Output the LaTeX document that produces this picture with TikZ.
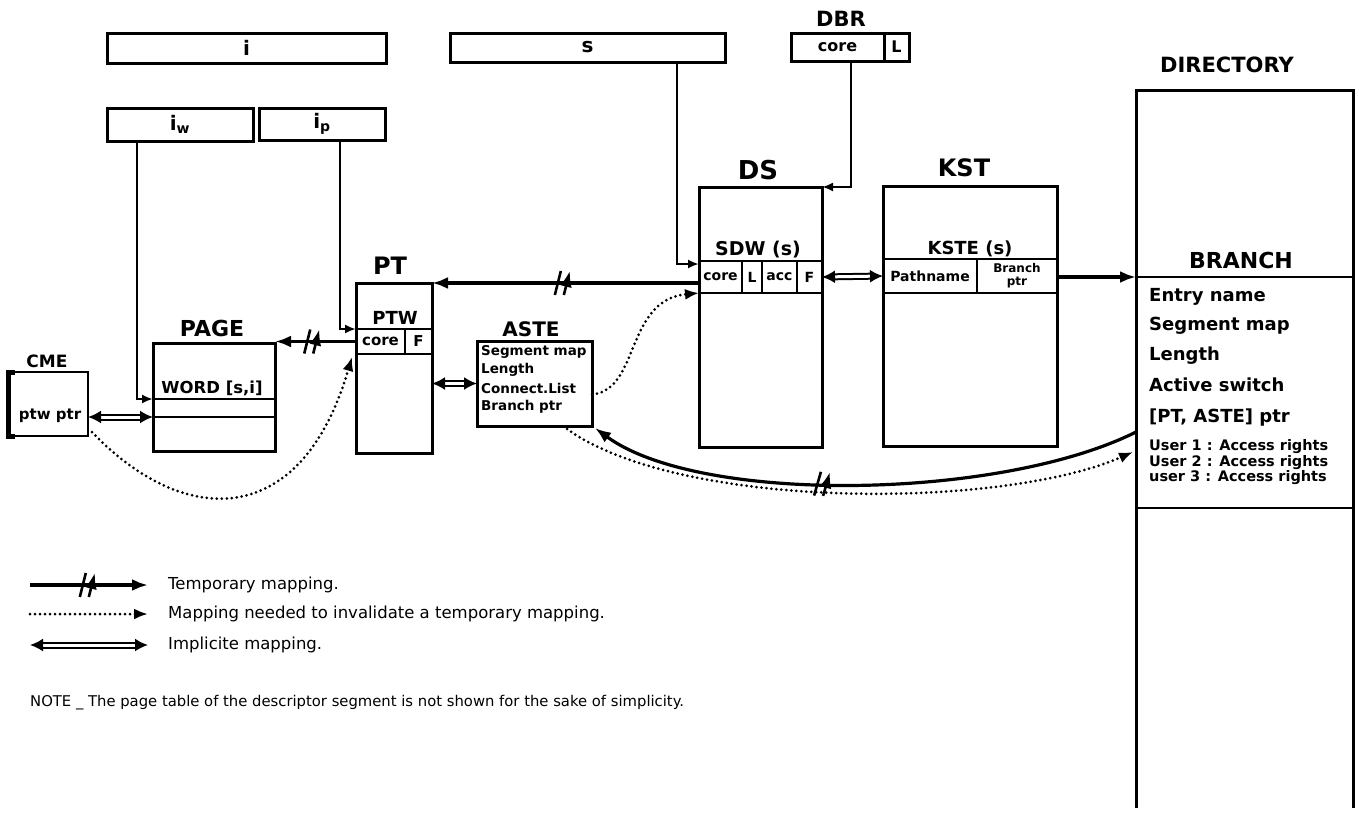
\documentclass[tikz,border=0pt]{standalone}
\usepackage{fontspec}
\setmainfont{DejaVu Sans}
\usetikzlibrary{arrows.meta,calc}
\newcommand{\fs}[1]{\fontsize{#1}{#1}\selectfont}
\begin{document}
\begin{tikzpicture}[x=1pt,y=-1pt,
  box/.style={draw,line width=3pt,inner sep=0pt,outer sep=0pt,font=\fs{20}\bfseries},
  cell/.style={draw,line width=2.2pt,inner sep=0pt,outer sep=0pt,font=\fs{14}\bfseries},
  area/.style={inner sep=0pt,outer sep=0pt},
  ttl/.style={font=\fs{22}\bfseries,inner sep=0pt},
  sub/.style={font=\fs{18}\bfseries,inner sep=0pt},
  txt/.style={inner sep=0pt,anchor=west},
  link/.style={line width=2.4pt,-{Latex[length=11pt,width=9pt]}},
  temp/.style={line width=3.2pt,-{Latex[length=16pt,width=12pt]}},
  dotted link/.style={line width=3pt,dash pattern=on 0pt off 5pt,line cap=round,-{Latex[length=14pt,width=11pt]}},
  impl/.style={double,double distance=3pt,line width=2pt,{Latex[length=13pt,width=13pt]}-{Latex[length=13pt,width=13pt]}},
  cut/.pic={\draw[line width=2.6pt,solid,line cap=butt] (-8,12)--(-2,-12) (1,12)--(7,-12);}
]
\path[use as bounding box,fill=white] (0,0) rectangle (1359,817);

% registers
\node[box,minimum width=279pt,minimum height=30pt] (ibox) at (246.5,48) {i};
\node[box,minimum width=146pt,minimum height=33pt] (iw) at (180,124.5) {i\textsubscript{w}};
\node[box,minimum width=126pt,minimum height=32pt] (ip) at (322,124) {i\textsubscript{p}};
\node[box,minimum width=275pt,minimum height=29pt] (sbox) at (587.5,47.5) {s};
\node[box,minimum width=93pt,minimum height=28pt,font=\fs{16}\bfseries] (dbrcore) at (837.5,47) {core};
\node[box,minimum width=25pt,minimum height=28pt,font=\fs{16}\bfseries] (dbrL) at (896.5,47) {L};
\node[ttl,font=\fs{21}\bfseries] (dbrt) at (841,19) {DBR};

% DS
\node[box,minimum width=123pt,minimum height=260pt] (ds) at (760.5,317) {};
\node[ttl,font=\fs{26}\bfseries] (dst) at (758,170) {DS};
\node[sub,font=\fs{19}\bfseries] (sdw) at (758,250) {SDW (s)};
\node[cell,minimum width=43pt,minimum height=32pt] (dscore) at (720.5,277) {core};
\node[cell,minimum width=20pt,minimum height=32pt] (dsL) at (752,277) {L};
\node[cell,minimum width=35pt,minimum height=32pt] (dsacc) at (779.5,277) {acc};
\node[cell,minimum width=25pt,minimum height=32pt] (dsF) at (809.5,277) {F};

% KST
\node[box,minimum width=174pt,minimum height=260pt] (kst) at (970,316) {};
\node[ttl,font=\fs{24}\bfseries] (kstt) at (964,168) {KST};
\node[sub] (kste) at (970,249) {KSTE (s)};
\node[cell,minimum width=94pt,minimum height=34pt] (kstpath) at (930,276) {Pathname};
\node[cell,minimum width=80pt,minimum height=34pt,font=\fontsize{12}{13}\selectfont\bfseries,align=center] (kstbr) at (1017,276) {Branch\\ptr};

% PT
\node[box,minimum width=76pt,minimum height=170pt] (pt) at (394,368) {};
\node[ttl,font=\fs{24}\bfseries] (ptt) at (390,266) {PT};
\node[sub] (ptw) at (395,318) {PTW};
\node[cell,minimum width=49pt,minimum height=25pt,font=\fs{15}\bfseries] (ptcore) at (380.5,341.5) {core};
\node[cell,minimum width=27pt,minimum height=25pt,font=\fs{15}\bfseries] (ptF) at (418.5,341.5) {F};

% PAGE
\node[box,minimum width=122pt,minimum height=108pt] (page) at (214,397) {};
\node[ttl] (paget) at (212,328) {PAGE};
\node[cell,minimum width=122pt,minimum height=18pt] (wordrow) at (214,408) {};
\node[sub,font=\fs{16.5}\bfseries] (word) at (212,388) {WORD [s,i]};

% CME
\node[area,minimum width=80pt,minimum height=64pt] (cme) at (48,404) {};
\draw[line width=2pt] (cme.north west) -- (cme.north east) -- (cme.south east) -- (cme.south west);
\draw[line width=5pt] ($(cme.north west)+(7,0)$) -- (cme.north west) -- (cme.south west) -- ++(7,0);
\node[ttl,font=\fs{17}\bfseries] (cmet) at (47,361) {CME};
\node[sub,font=\fs{15}\bfseries] (cmetxt) at (50,416) {ptw ptr};

% ASTE
\node[box,minimum width=115pt,minimum height=85pt] (aste) at (534.5,383.5) {};
\node[ttl,font=\fs{20}\bfseries] (astet) at (531,329) {ASTE};
\node[txt,font=\fs{13.5}\bfseries] (a1) at (481,352) {Segment map};
\node[txt,font=\fs{13.5}\bfseries] (a2) at (481,370) {Length};
\node[txt,font=\fs{13.5}\bfseries] (a3) at (481,388) {Connect.List};
\node[txt,font=\fs{13.5}\bfseries] (a4) at (481,407) {Branch ptr};

% DIRECTORY
\node[area,minimum width=217pt,minimum height=718pt] (dir) at (1244.5,449) {};
\draw[line width=3pt] (dir.south west) -- (dir.north west) -- (dir.north east) -- (dir.south east);
\node[area,minimum width=217pt,minimum height=231pt] (branch) at (1244.5,392.5) {};
\draw[line width=2.6pt] (branch.north west) -- (branch.north east) (branch.south west) -- (branch.south east);
\node[ttl,font=\fs{21}\bfseries] (dirt) at (1227,65) {DIRECTORY};
\node[ttl] (brt) at (1241,260) {BRANCH};
\node[txt,font=\fs{18}\bfseries] (b1) at (1149,297) {Entry name};
\node[txt,font=\fs{18}\bfseries] (b2) at (1149,326) {Segment map};
\node[txt,font=\fs{18}\bfseries] (b3) at (1149,356) {Length};
\node[txt,font=\fs{18}\bfseries] (b4) at (1149,385) {Active switch};
\node[txt,font=\fs{18}\bfseries] (b5) at (1149,418) {[PT, ASTE] ptr};
\node[txt,font=\fs{14.5}\bfseries] (b6) at (1149,447) {User 1 : Access rights};
\node[txt,font=\fs{14.5}\bfseries] (b7) at (1149,463) {User 2 : Access rights};
\node[txt,font=\fs{14.5}\bfseries] (b8) at (1149,478) {user 3 : Access rights};

% connectors
\draw[link] ($(iw.south west)+(30,0)$) |- (wordrow.north west);
\draw[link] ($(ip.south west)+(81,0)$) |- (ptcore.north west);
\draw[link] ($(sbox.south west)+(227,0)$) |- ($(dscore.north west)+(0,3)$);
\draw[link] ($(dbrcore.south west)+(60,0)$) |- (ds.north east);
\draw[temp] (ds.west |- pt.north east) -- pic[pos=.51,sloped]{cut} (pt.north east);
\draw[temp] (ptcore.west) -- pic[pos=.54,sloped]{cut} (ptcore.west -| page.north east);
\draw[impl] (cme.east |- wordrow.south) -- (wordrow.south west);
\draw[dotted link] ($(cme.south east)+(4,-4)$) .. controls (180,525) and (300,535) .. ($(ptcore.south west)+(-4,3)$);
\draw[impl] (pt.east |- aste.west) -- (aste.west);
\draw[dotted link] ($(aste.east)+(0,11)$) .. controls (640,390) and (625,300) .. (ds.west |- dscore.south);
\draw[impl] (dsF.east) -- (kstpath.west);
\draw[temp] (kstbr.east |- branch.north west) -- (branch.north west);
\draw[temp] ($(branch.north west)+(0,155)$) .. controls (1000,500) and (700,505) .. pic[pos=.55,sloped]{cut} ($(aste.south east)+(3,2)$);
\draw[dotted link] ($(aste.south east)+(-25,3)$) .. controls (680,510) and (1000,510) .. ($(branch.north west)+(-3,175)$);

% legend
\coordinate (l1a) at (30,585); \coordinate (l1b) at (148,585);
\coordinate (l2a) at (30,614); \coordinate (l2b) at (148,614);
\coordinate (l3a) at (30,645); \coordinate (l3b) at (148,645);
\draw[temp] (l1a) -- pic[pos=.49]{cut} (l1b);
\draw[dotted link] (l2a) -- (l2b);
\draw[impl] (l3a) -- (l3b);
\node[txt,font=\fs{16.5}] (t1) at (168,585) {Temporary mapping.};
\node[txt,font=\fs{16.5}] (t2) at (168,614) {Mapping needed to invalidate a temporary mapping.};
\node[txt,font=\fs{16.5}] (t3) at (168,645) {Implicite mapping.};
\node[txt,font=\fs{14.8}] (note) at (30,703) {NOTE \_ The page table of the descriptor segment is not shown for the sake of simplicity.};
\end{tikzpicture}
\end{document}
